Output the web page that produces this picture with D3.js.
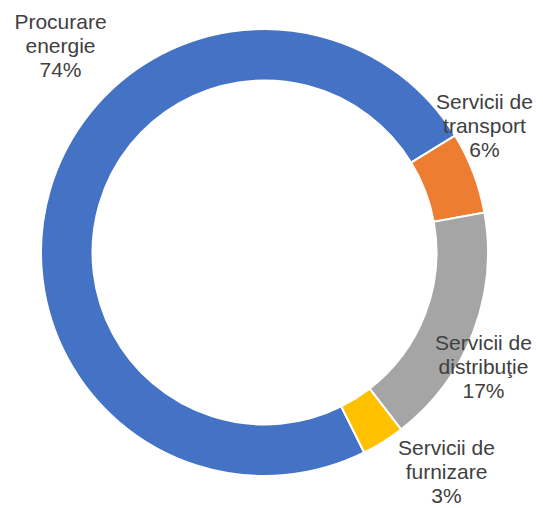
<!DOCTYPE html>
<html>
<head>
<meta charset="utf-8">
<script src="https://cdn.jsdelivr.net/npm/d3@7"></script>
<style>
  body { margin: 0; background: #fff; }
  svg { display: block; }
</style>
</head>
<body>
<main></main>
<script>
const WIDTH = 543
const HEIGHT = 508

// data
const categories = ['Procurare energie', 'Servicii de transport', 'Servicii de distribuţie', 'Servicii de furnizare']
const labelLines = [['Procurare', 'energie'], ['Servicii de', 'transport'], ['Servicii de', 'distribuţie'], ['Servicii de', 'furnizare']]
const values = [73.6, 5.9, 17.4, 3.1]
const colors = ['#4472C4', '#ED7D31', '#A5A5A5', '#FFC000']

// layout (label anchors = first line baseline, relative to centre)
const labelOffsets = [[-204, -224], [220, -143.5], [219, 97.5], [182, 202]]

const cx = 264.5
const cy = 252.5
const outerR = 223.5
const innerR = 172
const lineH = 24.2

const svgCanvas = d3.select('main').append('svg')
  .attr('width', WIDTH)
  .attr('height', HEIGHT)

const data = categories.map((c, i) => ({ id: i, name: c, value: values[i], color: colors[i], lines: labelLines[i] }))

// first slice starts low right, like the excel chart
const startDeg = 153.5
const pie = d3.pie()
  .sort(null)
  .value(d => d.value)
  .startAngle(startDeg * Math.PI / 180)
  .endAngle((startDeg + 360) * Math.PI / 180)

const arc = d3.arc()
  .innerRadius(innerR)
  .outerRadius(outerR)

const g = svgCanvas.append('g')
  .attr('transform', `translate(${cx},${cy})`)

g.selectAll('path')
  .data(pie(data))
  .enter()
  .append('path')
  .attr('d', arc)
  .style('fill', d => d.data.color)
  .style('stroke', '#fff')
  .style('stroke-width', 2)

const total = d3.sum(values)

const labels = g.selectAll('text.lbl')
  .data(data)
  .enter()
  .append('text')
  .attr('class', 'lbl')
  .attr('text-anchor', 'middle')
  .attr('font-family', '"Liberation Sans", Arial, sans-serif')
  .attr('font-size', 21)
  .attr('fill', '#404040')

labels.each(function (d, i) {
  const t = d3.select(this)
  const [ox, oy] = labelOffsets[i]
  const rows = d.lines.concat([Math.round(d.value / total * 100) + '%'])
  rows.forEach((r, j) => {
    t.append('tspan')
      .attr('x', ox)
      .attr('y', oy + j * lineH)
      .text(r)
  })
})
</script>
</body>
</html>
